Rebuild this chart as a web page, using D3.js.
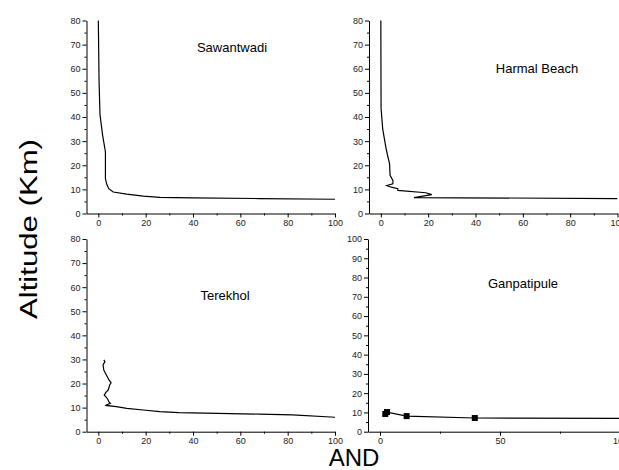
<!DOCTYPE html>
<html>
<head>
<meta charset="utf-8">
<script src="https://cdn.jsdelivr.net/npm/d3@7"></script>
<style>
  body { margin: 0; background: #fff; }
  svg text { font-family: "Liberation Sans", Arial, sans-serif; }
  .tick text { font-size: 9px; fill: #222; }
  .domain, .tick line { stroke: #000; stroke-width: 1; }
</style>
</head>
<body>
<svg></svg>
<script>
// altitude profiles, [value, altitude km]
var sawantwadi = [[0,80],[0.3,55],[0.7,41],[1.8,32.5],[3.0,25.5],[3.0,14.5],[3.5,12.3],[4.4,10.3],
  [6.3,8.9],[12,8.0],[19,7.2],[26,6.7],[40,6.5],[68,6.2],[100,5.9]];
var harmal = [[0,80],[0.1,43.5],[0.8,35],[2.2,27],[3.1,23],[3.7,20.6],[3.9,15.8],[5.1,13.7],[5.1,12.3],
  [2.5,11.6],[4.4,10.9],[7.2,10.3],[7.2,9.6],[19,8.6],[21.5,7.8],[14,6.6],[100,6.2]];
var terekhol = [[2.3,29.8],[2.8,29.1],[2.0,27.7],[2.3,25.6],[3.4,23.5],[4.5,21.5],[5.4,20.3],[4.8,19.4],
  [4.2,17.3],[3.1,16.2],[2.5,15.2],[3.4,14.3],[4.0,13.4],[4.5,12.4],[5.1,11.8],[3.4,11.1],[3.2,10.9],
  [7.6,10.4],[12,9.7],[19,9.0],[26,8.3],[34,7.9],[68,7.3],[82,7.0],[100,6.0]];
var ganpatipule = [[2.2,9.2],[2.9,10.2],[11.1,8.1],[39.5,7.1],[130,6.8]];

var names = ["Sawantwadi", "Harmal Beach", "Terekhol", "Ganpatipule"];
var yMax = [80, 80, 80, 100];
var xMajor = [[0,20,40,60,80,100], [0,20,40,60,80,100], [0,20,40,60,80,100], [0,50,100]];
var xMinor = [[10,30,50,70,90], [10,30,50,70,90], [10,30,50,70,90], [25,75]];

var width = 619, height = 470;
var svg = d3.select("svg").attr("width", width).attr("height", height);

var panels = [
  {data: sawantwadi, x: [86.5, 335], y: [213.5, 20.5], label: [232, 52]},
  {data: harmal, x: [369, 617.5], y: [213.5, 20.5], label: [537, 73]},
  {data: terekhol, x: [86.5, 335], y: [431.7, 239], label: [225, 300]},
  {data: ganpatipule, x: [368, 620], y: [431.7, 239], label: [523, 288], markers: true}
];

panels.forEach(function(p, i) {
  var x = d3.scaleLinear().domain([-5, 100]).range(p.x);
  var ymax = yMax[i];
  var y = d3.scaleLinear().domain([0, ymax]).range(p.y);
  var g = svg.append("g");

  var yMinorTicks = d3.range(5, ymax, 10);
  g.append("g").attr("transform", "translate(" + p.x[0] + ",0)")
    .call(d3.axisLeft(y).tickValues(yMinorTicks).tickSize(2).tickFormat(""))
    .select(".domain").remove();
  g.append("g").attr("transform", "translate(" + p.x[0] + ",0)")
    .call(d3.axisLeft(y).tickValues(d3.range(0, ymax + 1, 10)).tickSize(4).tickSizeOuter(0).tickPadding(2));

  g.append("g").attr("transform", "translate(0," + p.y[0] + ")")
    .call(d3.axisBottom(x).tickValues(xMinor[i]).tickSize(2).tickFormat(""))
    .select(".domain").remove();
  g.append("g").attr("transform", "translate(0," + p.y[0] + ")")
    .call(d3.axisBottom(x).tickValues(xMajor[i]).tickSize(4).tickSizeOuter(0).tickPadding(2));

  var clipId = "clip" + i;
  svg.append("clipPath").attr("id", clipId).append("rect")
    .attr("x", p.x[0]).attr("y", p.y[1] - 5)
    .attr("width", p.x[1] - p.x[0]).attr("height", p.y[0] - p.y[1] + 5);

  var line = d3.line().x(d => x(d[0])).y(d => y(d[1]));
  var plot = g.append("g").attr("clip-path", "url(#" + clipId + ")");
  plot.append("path").datum(p.data)
    .attr("d", line)
    .attr("fill", "none")
    .attr("stroke", "#000")
    .attr("stroke-width", 1.2);

  if (p.markers) {
    plot.selectAll("rect.m").data(p.data).enter().append("rect")
      .attr("class", "m")
      .attr("x", d => x(d[0]) - 3)
      .attr("y", d => y(d[1]) - 3)
      .attr("width", 6).attr("height", 6)
      .attr("fill", "#000");
  }

  g.append("text")
    .attr("x", p.label[0]).attr("y", p.label[1])
    .attr("text-anchor", "middle")
    .style("font-size", "13px")
    .text(names[i]);
});

svg.append("text")
  .attr("transform", "translate(37,229) rotate(-90)")
  .attr("text-anchor", "middle")
  .attr("textLength", 180)
  .attr("lengthAdjust", "spacingAndGlyphs")
  .style("font-size", "23px")
  .text("Altitude (Km)");

svg.append("text")
  .attr("x", 354).attr("y", 466)
  .attr("text-anchor", "middle")
  .style("font-size", "24px")
  .text("AND");
</script>
</body>
</html>
